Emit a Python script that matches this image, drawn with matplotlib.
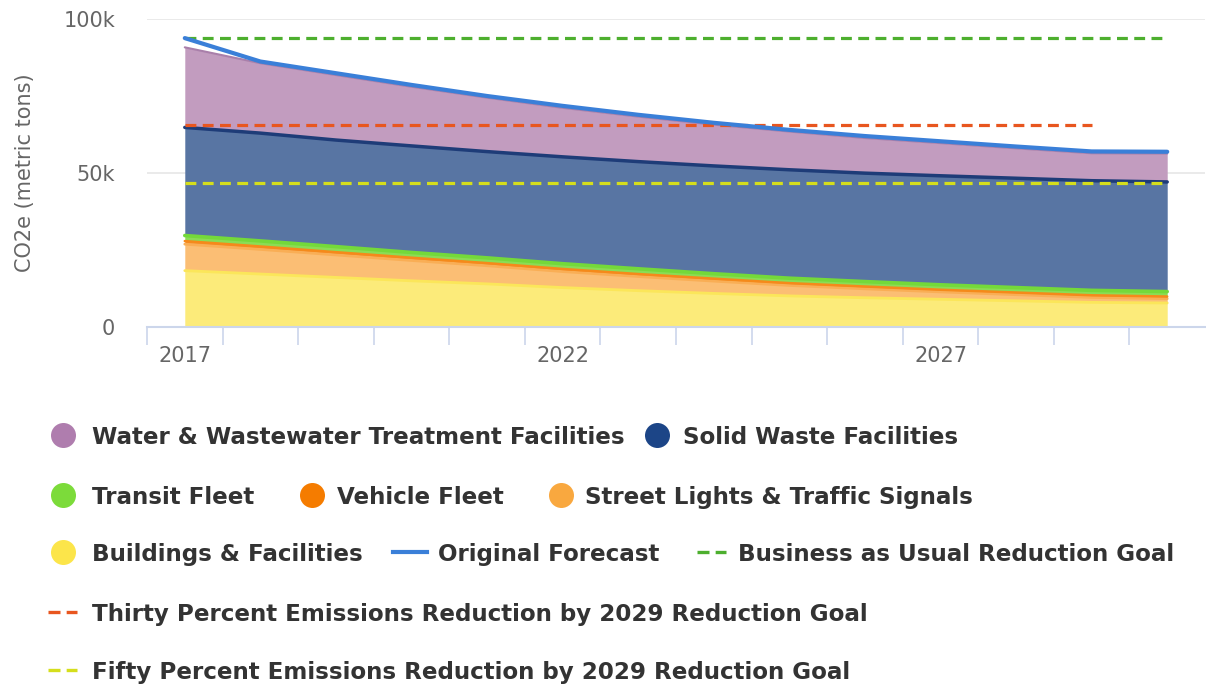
import matplotlib
matplotlib.use("Agg")
import matplotlib.pyplot as plt
import numpy as np

# data (thousand metric tons CO2e)
years = list(range(2017, 2031))
water = [26.0, 22.7, 21.1, 19.2, 17.5, 15.9, 14.6, 13.4, 12.4, 11.4, 10.6, 9.7, 8.9, 9.2]
solid_waste = [35.1, 35.0, 34.6, 34.6, 34.5, 34.7, 34.8, 35.0, 35.2, 35.2, 35.4, 35.5, 35.6, 35.6]
transit_fleet = [1.8, 1.8, 1.8, 1.7, 1.7, 1.7, 1.7, 1.6, 1.6, 1.6, 1.6, 1.6, 1.6, 1.6]
vehicle_fleet = [1.0, 0.95, 0.9, 0.9, 0.85, 0.85, 0.8, 0.8, 0.75, 0.75, 0.7, 0.7, 0.7, 0.7]
street_lights = [8.6, 8.0, 7.3, 6.6, 5.9, 5.2, 4.6, 4.0, 3.4, 2.9, 2.4, 2.0, 1.6, 1.4]
buildings = [18.3, 17.2, 16.1, 15.0, 14.0, 12.8, 11.8, 10.9, 10.1, 9.5, 9.0, 8.5, 8.0, 7.8]
original_forecast = [93.8, 86.2, 82.4, 78.6, 75.0, 71.8, 68.9, 66.3, 64.0, 62.0, 60.3, 58.6, 57.0, 56.9]
bau_goal = 93.8
thirty_goal = 65.6
fifty_goal = 46.9
thirty_goal_end = 2029
tick_years = [2017, 2022, 2027]

labels = ["Water & Wastewater Treatment Facilities", "Solid Waste Facilities",
          "Transit Fleet", "Vehicle Fleet", "Street Lights & Traffic Signals",
          "Buildings & Facilities", "Original Forecast",
          "Business as Usual Reduction Goal",
          "Thirty Percent Emissions Reduction by 2029 Reduction Goal",
          "Fifty Percent Emissions Reduction by 2029 Reduction Goal"]

# bottom -> top
layers = [buildings, street_lights, vehicle_fleet, transit_fleet, solid_waste, water]
fills = ["#FCEB7A", "#FBBE74", "#F5892A", "#8BDC55", "#5875A3", "#C29CBF"]
edges = ["#FBE65A", "#F9AE55", "#F58A1A", "#74D93A", "#1E3C78", "#A97FAA"]
edge_w = [2, 2, 1.8, 2.6, 2.5, 1.5]

fig = plt.figure(figsize=(12.06, 6.85), dpi=100)
ax = fig.add_axes([147 / 1206, 1 - 327 / 685, (1205 - 147) / 1206, (327 - 19) / 685])

x = np.arange(len(years))
cum = np.cumsum(np.array(layers), axis=0)
base = np.zeros(len(years))
for i in range(len(layers)):
    ax.fill_between(x, base, cum[i], color=fills[i], lw=0, zorder=2)
    base = cum[i]
for i in range(len(layers)):
    ax.plot(x, cum[i], color=edges[i], lw=edge_w[i], zorder=3, solid_capstyle="round")

ax.plot(x, original_forecast, color="#3A7FD8", lw=3, zorder=5, solid_capstyle="round")
dash = (3.4, 2.0)
ax.plot([x[0], x[-1]], [bau_goal, bau_goal], color="#4DAF2E", lw=2.3, dashes=dash, zorder=4)
i29 = years.index(thirty_goal_end)
ax.plot([x[0], x[i29]], [thirty_goal, thirty_goal], color="#E8561F", lw=2.3, dashes=dash, zorder=4)
ax.plot([x[0], x[-1]], [fifty_goal, fifty_goal], color="#D5DE1C", lw=2.3, dashes=dash, zorder=4)

ax.set_xlim(-0.5, len(years) - 0.5)
ax.set_ylim(0, 100)
for s in ["top", "right", "left"]:
    ax.spines[s].set_visible(False)
ax.spines["bottom"].set_color("#CCD6EB")
ax.spines["bottom"].set_linewidth(1.5)
ax.spines["bottom"].set_zorder(6)

ax.set_xticks(np.arange(-0.5, len(years) - 0.5, 1.0))
ax.set_xticklabels([])
ax.tick_params(axis="x", which="major", length=13, width=1.2, color="#CCD6EB")
ax.set_xticks([years.index(y) for y in tick_years], minor=True)
ax.set_xticklabels([str(y) for y in tick_years], minor=True)
ax.tick_params(axis="x", which="minor", length=0, pad=14, labelsize=15, labelcolor="#666666")

ax.set_yticks([0, 50, 100])
ax.set_yticklabels(["0", "50k", "100k"])
ax.tick_params(axis="y", length=0, pad=23, labelsize=15, labelcolor="#666666")
ax.grid(axis="y", color="#E6E6E6", lw=1.2, zorder=0)
ax.set_axisbelow(True)

fig.text(25 / 1206, 1 - 173 / 685, "CO2e (metric tons)", rotation=90, ha="center",
         va="center", fontsize=15, color="#666666")

# legend drawn in pixel coordinates
lg = fig.add_axes([0, 0, 1, 1])
lg.set_xlim(0, 1206)
lg.set_ylim(685, 0)
lg.axis("off")
lg.patch.set_alpha(0)

legend_items = [
    (labels[0], "#AF7DAE", "dot", 63, 435, 92),
    (labels[1], "#1C4587", "dot", 657, 435, 683),
    (labels[2], "#7CDB3A", "dot", 63, 495, 92),
    (labels[3], "#F57C00", "dot", 312, 495, 337),
    (labels[4], "#F9A83F", "dot", 561, 495, 585),
    (labels[5], "#FCE54A", "dot", 63, 552, 92),
    (labels[6], "#3A7FD8", "line", 410, 552, 438),
    (labels[7], "#4DAF2E", "dash", 711, 552, 738),
    (labels[8], "#E8561F", "dash", 62, 612, 92),
    (labels[9], "#D5DE1C", "dash", 62, 670, 92),
]
for text, col, kind, mx, my, tx in legend_items:
    if kind == "dot":
        lg.plot([mx], [my], "o", ms=18, color=col, mec="none")
    elif kind == "line":
        lg.plot([mx - 17, mx + 17], [my, my], color=col, lw=3)
    else:
        lg.plot([mx - 14.5, mx + 14.5], [my, my], color=col, lw=2.4,
                dashes=(3.6, 1.85), solid_capstyle="butt")
    lg.text(tx, my, text, ha="left", va="center_baseline", fontsize=16.6,
            fontweight="bold", color="#333333")

fig.savefig("out.png", dpi=100)
